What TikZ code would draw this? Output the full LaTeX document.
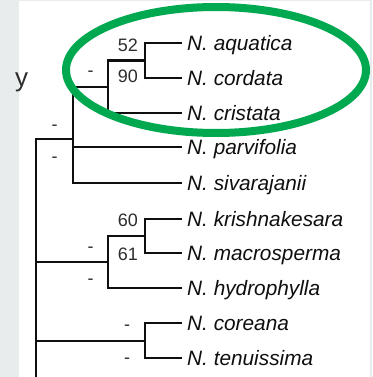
\documentclass[tikz,border=0pt]{standalone}
\usepackage{fontspec}
\setmainfont{Liberation Sans}
\definecolor{treeink}{RGB}{15,15,15}
\definecolor{labelgray}{RGB}{45,45,45}
\definecolor{circlegreen}{RGB}{0,168,80}
\definecolor{sidegray}{RGB}{232,236,236}
\usetikzlibrary{positioning}

\begin{document}
\begin{tikzpicture}[x=1pt,y=-1pt,
      taxon/.style={anchor=west,inner sep=5pt,text height=15pt,text depth=0pt,
                    font=\fontsize{20.8}{24}\selectfont\itshape,text=treeink},
      support/.style={inner sep=0pt,text height=13pt,text depth=0pt,
                      font=\fontsize{18}{20}\selectfont,text=labelgray},
      nosupport/.style={support,text height=10pt},
      branch/.style={draw=treeink,line width=2.9pt}]
      % page
      \fill[sidegray] (0,0) rectangle (372,377);
      \fill[white] (19,1) rectangle (370,377);
      \useasboundingbox (0,0) rectangle (372,377);
      \node[anchor=base west,inner sep=0pt,font=\fontsize{26}{30}\selectfont,text=labelgray] (cut) at (15,86.5) {y};
      % taxa
      \node[taxon] (aqu) at (182,43) {N. aquatica};
      \node[taxon] (cor) at (182,78) {N. cordata};
      \node[taxon] (cri) at (182,113) {N. cristata};
      \node[taxon] (par) at (182,147) {N. parvifolia};
      \node[taxon] (siv) at (182,183) {N. sivarajanii};
      \node[taxon] (kri) at (182,219) {N. krishnakesara};
      \node[taxon] (mac) at (182,253) {N. macrosperma};
      \node[taxon] (hyd) at (182,288) {N. hydrophylla};
      \node[taxon] (kor) at (182,323) {N. coreana};
      \node[taxon] (ten) at (182,358) {N. tenuissima};
      % internal nodes
      \coordinate (nA) at (145,60.5);
      \coordinate (nB) at (108,87);
      \coordinate (nC) at (73,139);
      \coordinate (nF) at (145,236);
      \coordinate (nD) at (108,262);
      \coordinate (nE) at (145,341);
      \coordinate (rootend) at (36,377);
      % branches
      \draw[branch] (aqu.west) -| (nA) |- (cor.west);
      \draw[branch] (nA) -| (nB) |- (cri.west);
      \draw[branch] (nB) -| (nC) |- (siv.west);
      \draw[branch] (nC |- par.west) -- (par.west);
      \draw[branch] (nC) -| (rootend);
      \draw[branch] (kri.west) -| (nF) |- (mac.west);
      \draw[branch] (nF) -| (nD) |- (hyd.west);
      \draw[branch] (nD) -- (nD -| rootend);
      \draw[branch] (kor.west) -| (nE) |- (ten.west);
      \draw[branch] (nE) -- (nE -| rootend);
      % support values
      \node[support,anchor=east] (sA1) at (138,45) {52};
      \node[support,anchor=east] (sA2) at (138,76.5) {90};
      \node[nosupport] (sB1) at (90.5,72) {-};
      \node[nosupport] (sB2) at (92,104) {-};
      \node[nosupport] (sC1) at (54.5,125) {-};
      \node[nosupport] (sC2) at (54.5,157) {-};
      \node[support,anchor=east] (sF1) at (138,220) {60};
      \node[support,anchor=east] (sF2) at (138,253.5) {61};
      \node[nosupport] (sD1) at (90.5,247) {-};
      \node[nosupport] (sD2) at (90.5,279) {-};
      \node[nosupport] (sE1) at (127,325) {-};
      \node[nosupport] (sE2) at (127,358) {-};
      % highlight
      \draw[circlegreen,line width=8pt] (216,70) ellipse [x radius=150pt,y radius=63pt];
    \end{tikzpicture}
\end{document}
